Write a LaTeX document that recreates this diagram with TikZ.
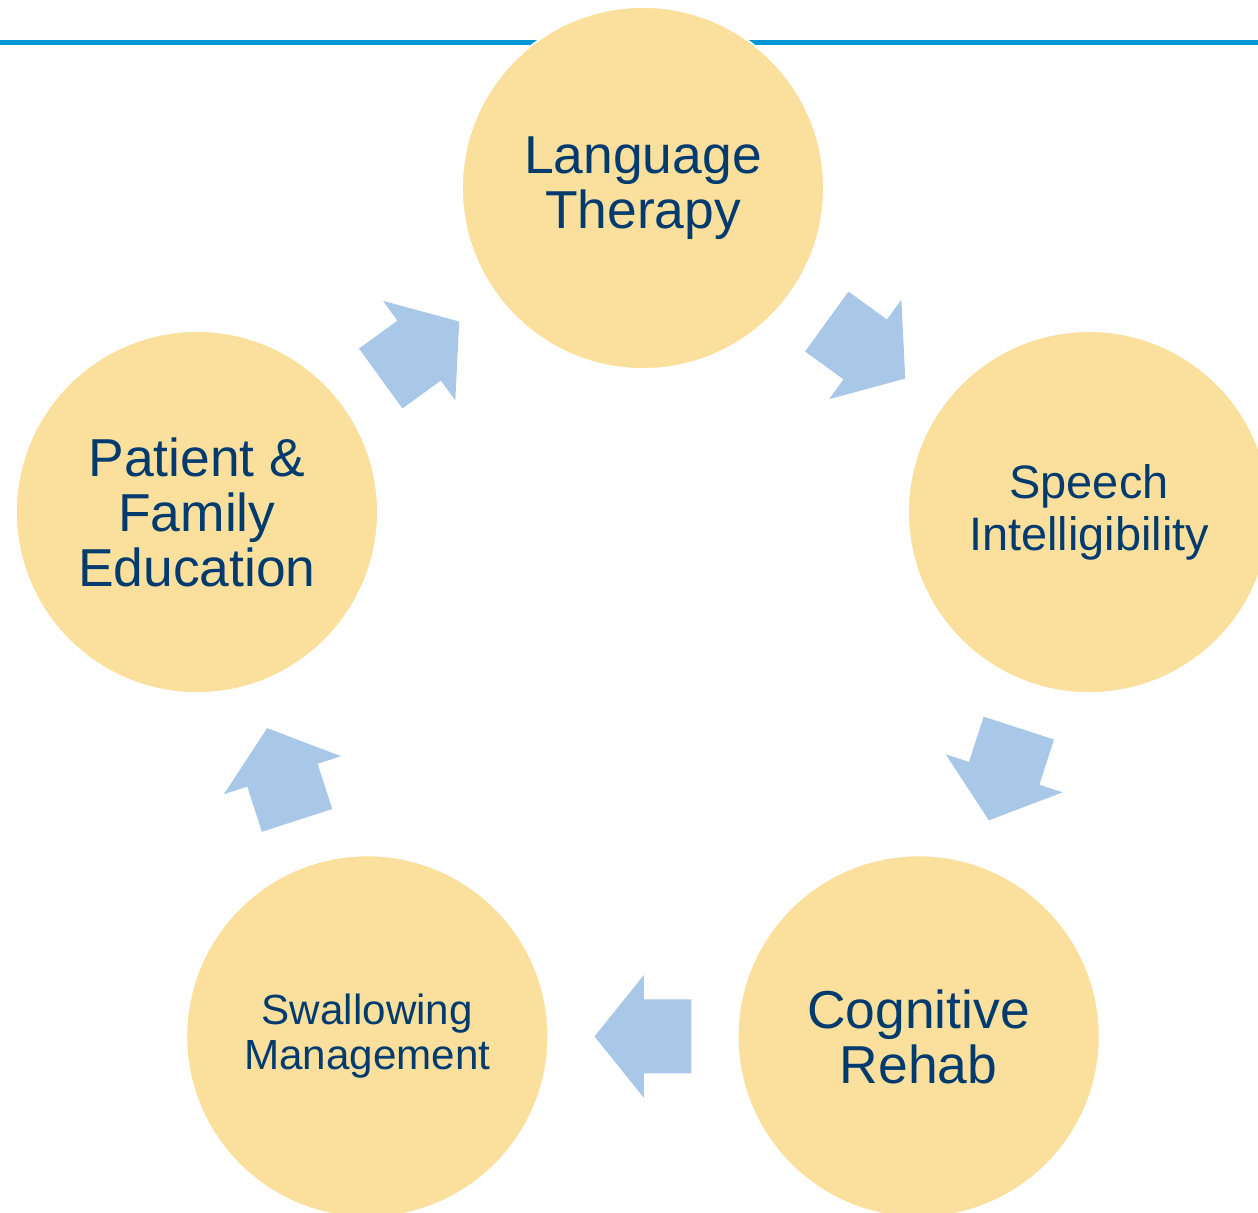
\documentclass[tikz,border=0pt]{standalone}
\usepackage{fontspec}
\setmainfont{Liberation Sans}
\usetikzlibrary{positioning, calc}
\definecolor{stagefill}{HTML}{FBDF9C}
\definecolor{stagetext}{HTML}{003B6F}
\definecolor{turnfill}{HTML}{A9C8E8}
\definecolor{topline}{HTML}{0096D6}
\tikzset{
x=0.02cm, y=0.02cm, % one unit is one pixel of the sketch
stage/.style={circle, fill=stagefill, draw=white, line width=1pt, minimum size=7.24cm, inner sep=0pt, align=center, text=stagetext}, % the five circles
big/.style={font=\fontsize{30.4}{31.3}\selectfont}, % most labels
mid/.style={font=\fontsize{26.7}{29.6}\selectfont}, % the long word
small/.style={font=\fontsize{24}{25.6}\selectfont}, % the smallest label
turn/.pic={\fill[turnfill] (-48.5,-37) -- (-1,-37) -- (-1,-61.5) -- (48.5,0) -- (-1,61.5) -- (-1,37) -- (-48.5,37) -- cycle;}, % block arrow, points along +x
}
\begin{document}
\begin{tikzpicture}
\useasboundingbox (-643,-556) rectangle (615,657);
\draw[topline, line width=0.1cm] (-643,614.5) -- (615,614.5);
% the cycle, clockwise from the top
\node[stage, big] (lang) at (90:469) {Language\\Therapy};
\node[stage, mid] (speech) at (18:469) {Speech\\Intelligibility};
\node[stage, big] (cog) at (-54:469) {Cognitive\\Rehab};
\node[stage, small] (swallow) at (-126:469) {Swallowing\\Management};
\node[stage, big] (family) at (162:469) {Patient \&\\Family\\Education};
% arrows half way between neighbours
\pic[rotate=-36] at ($(lang)!0.5!(speech)$) {turn};
\pic[rotate=-108] at ($(speech)!0.5!(cog)$) {turn};
\pic[rotate=180] at ($(cog)!0.5!(swallow)$) {turn};
\pic[rotate=108] at ($(swallow)!0.5!(family)$) {turn};
\pic[rotate=36] at ($(family)!0.5!(lang)$) {turn};
\end{tikzpicture}
\end{document}
